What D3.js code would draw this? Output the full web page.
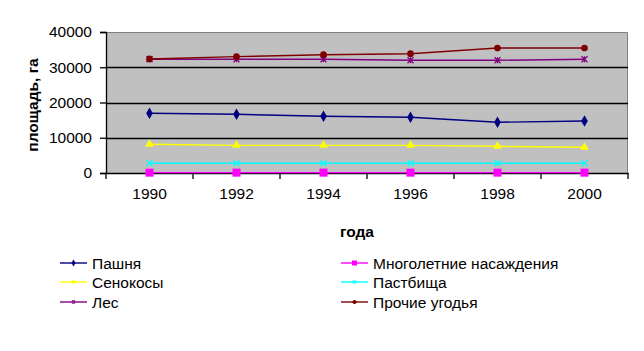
<!DOCTYPE html>
<html lang="ru">
<head>
<meta charset="UTF-8">
<title>Площадь угодий</title>
<script src="https://d3js.org/d3.v7.min.js"></script>
<style>
    body { margin: 0; background: #fff; }
    svg text { font-family: "Liberation Sans", Arial, sans-serif; fill: #000; }
</style>
</head>
<body>
<svg id="chart" width="644" height="351"></svg>
<script>
    // data
    var years = ['1990', '1992', '1994', '1996', '1998', '2000'];
    var pashnya = [16950, 16650, 16080, 15800, 14400, 14750];
    var mnogolet = [100, 100, 100, 100, 100, 100];
    var senokosy = [8150, 7850, 7850, 7850, 7570, 7300];
    var pastbisha = [2750, 2750, 2750, 2750, 2750, 2750];
    var les = [32250, 32250, 32250, 31970, 31970, 32250];
    var prochie = [32350, 33000, 33560, 33840, 35460, 35460];
    var yTicks = [0, 10000, 20000, 30000, 40000];

    var series = [
        { name: 'Пашня', values: pashnya, color: '#000080', marker: 'diamond' },
        { name: 'Многолетние насаждения', values: mnogolet, color: '#FF00FF', marker: 'square' },
        { name: 'Сенокосы', values: senokosy, color: '#FFFF00', marker: 'triangle' },
        { name: 'Пастбища', values: pastbisha, color: '#00FFFF', marker: 'cross' },
        { name: 'Лес', values: les, color: '#800080', marker: 'star' },
        { name: 'Прочие угодья', values: prochie, color: '#800000', marker: 'circle' }
    ];

    var svg = d3.select('#chart');
    var plotL = 106, plotR = 628, plotT = 32, plotB = 173;

    var x = d3.scaleBand().domain(years).range([plotL, plotR]);
    var y = d3.scaleLinear().domain([0, 40000]).range([plotB, plotT]);

    // plot area
    svg.append('rect')
        .attr('x', plotL).attr('y', plotT)
        .attr('width', plotR - plotL).attr('height', plotB - plotT)
        .attr('fill', '#C0C0C0');
    svg.append('path')
        .attr('d', 'M' + plotL + ',' + (plotT + 0.5) + 'H' + (plotR - 0.5) + 'V' + plotB)
        .attr('fill', 'none').attr('stroke', '#808080');

    // grid
    svg.append('g').selectAll('line')
        .data(yTicks.slice(1, -1))
        .enter().append('line')
        .attr('x1', plotL).attr('x2', plotR)
        .attr('y1', function (d) { return Math.round(y(d)) + 0.5; })
        .attr('y2', function (d) { return Math.round(y(d)) + 0.5; })
        .attr('stroke', '#000').attr('stroke-width', 1.3);

    // y axis
    var yAxis = d3.axisLeft(y).tickValues(yTicks).tickSize(6).tickPadding(8)
        .tickFormat(d3.format('d'));
    var gy = svg.append('g').attr('transform', 'translate(' + plotL + ',0)').call(yAxis);
    gy.select('.domain').attr('stroke', '#000').attr('stroke-width', 1.3);
    gy.selectAll('.tick line').attr('stroke', '#000').attr('stroke-width', 1.3);
    gy.selectAll('text').style('font-size', '15.5px');

    // x axis
    var xAxis = d3.axisBottom(x).tickSize(0).tickPadding(15);
    var gx = svg.append('g').attr('transform', 'translate(0,' + plotB + ')').call(xAxis);
    gx.select('.domain').attr('stroke', '#000').attr('stroke-width', 1.3);
    gx.selectAll('text').style('font-size', '15.5px');
    var bounds = years.map(function (d) { return x(d); }).concat([plotR]);
    gx.selectAll('.sep').data(bounds).enter().append('line')
        .attr('x1', function (d) { return d; }).attr('x2', function (d) { return d; })
        .attr('y1', 0).attr('y2', 6)
        .attr('stroke', '#000').attr('stroke-width', 1.3);

    // axis titles
    svg.append('text')
        .attr('transform', 'translate(38,105) rotate(-90)')
        .attr('text-anchor', 'middle')
        .style('font-size', '15.5px').style('font-weight', 'bold')
        .text('площадь, га');
    svg.append('text')
        .attr('x', 357).attr('y', 237)
        .attr('text-anchor', 'middle')
        .style('font-size', '15.5px').style('font-weight', 'bold')
        .text('года');

    function marker(g, type, color, s) {
        if (type === 'diamond') {
            g.append('path').attr('d', d3.symbol(d3.symbolDiamond, s * s * 0.6)).attr('fill', color);
        } else if (type === 'square') {
            g.append('rect').attr('x', -s / 2).attr('y', -s / 2).attr('width', s).attr('height', s).attr('fill', color);
        } else if (type === 'triangle') {
            g.append('path').attr('d', d3.symbol(d3.symbolTriangle, s * s * 0.5)).attr('fill', color);
        } else if (type === 'circle') {
            g.append('circle').attr('r', s * 0.42).attr('fill', color);
        } else if (type === 'cross') {
            var h = s / 2 - 1;
            g.append('path').attr('d', 'M' + (-h) + ',' + (-h) + 'L' + h + ',' + h + 'M' + (-h) + ',' + h + 'L' + h + ',' + (-h))
                .attr('stroke', color).attr('stroke-width', 1.3);
        } else if (type === 'star') {
            var k = s / 2 - 1;
            g.append('path').attr('d', 'M' + (-k) + ',' + (-k) + 'L' + k + ',' + k + 'M' + (-k) + ',' + k + 'L' + k + ',' + (-k) + 'M0,' + (-k) + 'V' + k)
                .attr('stroke', color).attr('stroke-width', 1.3);
        }
    }

    var line = d3.line()
        .x(function (d, i) { return x(years[i]) + x.bandwidth() / 2; })
        .y(function (d) { return y(d); });

    series.forEach(function (s) {
        svg.append('path')
            .datum(s.values)
            .attr('d', line)
            .attr('fill', 'none')
            .attr('stroke', s.color)
            .attr('stroke-width', 1.4);
        s.values.forEach(function (v, i) {
            var g = svg.append('g')
                .attr('transform', 'translate(' + (x(years[i]) + x.bandwidth() / 2) + ',' + y(v) + ')');
            marker(g, s.marker, s.color, 8);
        });
    });

    // legend: two columns, three rows
    var legX = [60, 341], legY = [263, 282, 302];
    series.forEach(function (s, i) {
        var col = i % 2, row = Math.floor(i / 2);
        var g = svg.append('g').attr('transform', 'translate(' + legX[col] + ',' + legY[row] + ')');
        g.append('line').attr('x1', 0).attr('x2', 27).attr('y1', 0).attr('y2', 0)
            .attr('stroke', s.color).attr('stroke-width', 1.4);
        var m = g.append('g').attr('transform', 'translate(13.5,0)');
        marker(m, s.marker, s.color, 5);
        g.append('text').attr('x', 32).attr('y', 5.5)
            .style('font-size', '15.5px')
            .text(s.name);
    });
</script>
</body>
</html>
